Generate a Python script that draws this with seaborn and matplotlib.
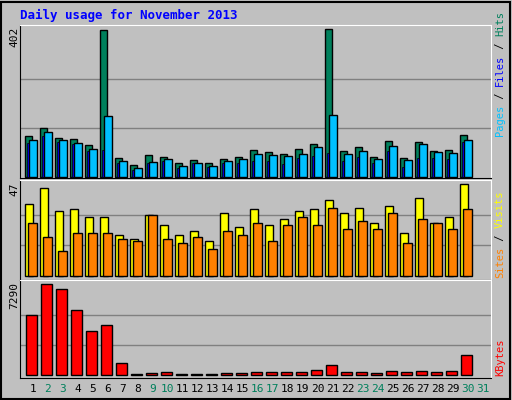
import matplotlib
matplotlib.use("Agg")
import matplotlib.pyplot as plt
import seaborn as sns
import numpy as np
import pandas as pd

days = list(range(1, 32))
hits = [111,133,106,103,86,400,51,32,59,54,37,45,37,48,54,73,67,62,75,89,402,70,81,54,97,51,95,70,73,114,0]
files = [100,122,100,92,75,166,43,24,40,48,29,37,29,43,48,62,59,56,62,81,168,62,70,48,84,45,89,67,65,100,0]
pages = [92,111,95,89,70,73,37,18,37,43,24,37,26,37,37,43,43,35,51,56,65,43,54,37,70,26,51,51,48,95,0]
visits = [37,45,33,34,30,30,21,19,31,26,21,23,18,32,25,34,26,29,33,34,39,32,35,27,36,22,40,27,30,47,0]
sites = [27,20,13,22,22,22,19,18,31,19,17,20,14,23,21,27,18,26,30,26,35,24,28,24,32,17,29,27,24,34,0]
kbytes = [4833,7290,6889,5207,3524,4005,961,80,160,240,80,80,80,160,160,240,240,240,240,400,801,240,240,160,320,240,320,240,320,1602,0]
weekend = [2,3,9,10,16,17,23,24,30,31]

BG = "#C0C0C0"
fig = plt.figure(figsize=(5.12, 4.0), dpi=100, facecolor=BG)
W, H = 512, 400

def mkax(y0, y1):
    ax = fig.add_axes([20/W, 1 - y1/H, 471/W, (y1 - y0)/H])
    ax.set_facecolor(BG)
    for s in ["left", "bottom"]:
        ax.spines[s].set_color("black")
    for s in ["top", "right"]:
        ax.spines[s].set_color("white")
    ax.set_xticks([]); ax.set_yticks([])
    return ax

x0 = np.array(days) - 1

def bars(ax, vals, off, width, color, lw=1.0):
    df = pd.DataFrame({"x": x0 + off + width/2, "y": vals})
    df = df[df.y > 0]
    sns.barplot(data=df, x="x", y="y", native_scale=True, width=width, color=color,
                edgecolor="black", linewidth=lw, saturation=1, ax=ax, errorbar=None)
    ax.set_xlabel(""); ax.set_ylabel("")
    ax.set_xticks([]); ax.set_yticks([])

def grid(ax, top):
    for f in (1/3, 2/3):
        ax.axhline(top*f, color="#808080", lw=1, zorder=0)

ax1 = mkax(25, 178)
grid(ax1, 402)
bars(ax1, hits, 0.0, 0.5, "#00805C")
bars(ax1, pages, 0.13, 0.2, "#0000FF", lw=0.5)
bars(ax1, files, 0.29, 0.5, "#00C0FF")
ax1.set_xlim(-0.333, 31.07); ax1.set_ylim(-3.5, 414)

ax2 = mkax(180, 280)
grid(ax2, 47)
bars(ax2, visits, 0.0, 0.55, "#FFFF00")
bars(ax2, sites, 0.22, 0.55, "#FF8000")
ax2.set_xlim(-0.333, 31.07); ax2.set_ylim(-1.9, 49)

ax3 = mkax(280, 378)
grid(ax3, 7290)
bars(ax3, kbytes, 0.07, 0.7, "#FF0000")
ax3.set_xlim(-0.333, 31.07); ax3.set_ylim(-216, 7634)

mono = "DejaVu Sans Mono"
fig.text(20/W, 1 - 15/H, "Daily usage for November 2013", color="#0000FF", fontsize=9,
         fontweight="bold", family=mono, va="center", ha="left")

for ytop, lab in [(27, "402"), (182, "47"), (282, "7290")]:
    fig.text(14/W, 1 - ytop/H, lab, rotation=90, ha="center", va="top",
             fontsize=8, family=mono)

for d in days:
    c = "#00805C" if d in weekend else "black"
    fig.text((20 + 5 + 15*(d-1) + 7.7)/W, 1 - 389/H, str(d), color=c, fontsize=8,
             family=mono, ha="center", va="center")

renderer = fig.canvas.get_renderer()

def vstack(xpix, ybot, parts):
    y = ybot
    for txt, col in parts:
        t = fig.text(xpix/W, 1 - y/H, txt, rotation=90, color=col, fontsize=7.5,
                     family=mono, ha="center", va="bottom")
        bb = t.get_window_extent(renderer)
        y -= bb.height

vstack(500, 136, [("Pages", "#00C0FF"), (" / ", "black"), ("Files", "#0000FF"), (" / ", "black"), ("Hits", "#00805C")])
vstack(500, 278, [("Sites", "#FF8000"), (" / ", "black"), ("Visits", "#FFFF00")])
vstack(500, 376, [("KBytes", "#FF0000")])

fig.add_artist(plt.Rectangle((1/W, 1/H), 1 - 3/W, 1 - 3/H, transform=fig.transFigure,
                             fill=False, edgecolor="black", lw=1.5))
fig.savefig("out.png", dpi=100, facecolor=BG)
